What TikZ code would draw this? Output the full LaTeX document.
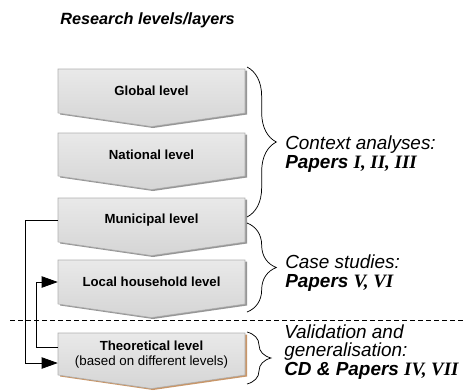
\documentclass[tikz,border=0pt]{standalone}
\usepackage{fontspec}
\setsansfont{Liberation Sans}
\newfontfamily\romanfont{Liberation Serif}
\usetikzlibrary{arrows.meta,calc,decorations.pathreplacing}

\definecolor{boxtop}{RGB}{233,233,233}
\definecolor{boxbot}{RGB}{213,213,213}
\definecolor{boxedge}{RGB}{175,175,175}
\definecolor{shadowgray}{RGB}{150,150,150}
\definecolor{shadowbrown}{RGB}{200,150,105}

\newcommand{\rnum}[1]{{\romanfont\bfseries\itshape #1}}

\tikzset{
  levelshape/.style={top color=boxtop, bottom color=boxbot, draw=boxedge, line width=0.4pt},
  levellabel/.style={inner sep=0pt, minimum width=140.25pt, minimum height=33pt, align=center,
    font=\sffamily\bfseries\fontsize{9.9}{11.25}\selectfont},
  findings/.style={anchor=west, inner sep=0pt, align=left,
    font=\sffamily\itshape\fontsize{14.2}{14}\selectfont},
  feedback/.style={line width=0.6pt, -{Triangle[length=12pt,width=8.5pt]}},
  layerbrace/.style={decorate, decoration={brace, amplitude=#1}, line width=0.55pt},
  layerbrace/.default=22pt,
}

\begin{document}
\begin{tikzpicture}[x=0.75pt,y=0.75pt,yscale=-1,xscale=1]
\useasboundingbox (0,0) rectangle (464,390);

% Text Node
\node [anchor=west, inner sep=0pt, font=\sffamily\bfseries\itshape\fontsize{12.2}{14}\selectfont] (title) at (60,20) {Research levels/layers};

%Shapes: level arrows
\foreach \t/\b/\sh in {69/44/shadowgray,133/43/shadowgray,198/44/shadowgray,260/44/shadowgray,333/42/shadowbrown}{
  \fill [\sh] (60,\t+1.5) -- (247,\t+1.5) -- (247,\t+\b+1.5) -- (153,\t+\b+15) -- (60,\t+\b+1.5) -- cycle ;
  \draw [levelshape] (58,\t) -- (245,\t) -- (245,\t+\b) -- (151.5,\t+\b+13.5) -- (58,\t+\b) -- cycle ;
}

% Text Nodes
\node [levellabel] (glob) at (151.5,91) {Global level};
\node [levellabel] (nat) at (151.5,155) {National level};
\node [levellabel] (mun) at (151.5,220) {Municipal level};
\node [levellabel] (loc) at (151.5,282) {Local household level};
\node [levellabel] (theo) at (151.5,355) {Theoretical level\\{\mdseries\fontsize{10}{11.25}\selectfont (based on different levels)}};

%Straight Lines
\draw [feedback] (mun.west) -- ++(-32,0) |- ($(theo.west)+(0,8)$) ;
\draw [feedback] ($(theo.west)+(0,-8)$) -- ++(-21,0) |- (loc.west) ;

%Dashed line
\draw [dash pattern=on 3.5pt off 2.5pt, line width=0.6pt] (10,320) -- (464,320) ;

%Braces
\draw [layerbrace] (247,67) -- (247,217) ;
\draw [layerbrace] (247,223) -- (247,312) ;
\draw [layerbrace=18pt] (247,332) -- (247,384) ;

% Text Nodes
\node [findings] (ctx) at (285,154) {Context analyses:\\\textbf{Papers \rnum{I, II, III}}};
\node [findings] (case) at (285,273) {Case studies:\\\textbf{Papers \rnum{V, VI}}};
\node [findings] (valid) at (284,352) {Validation and\\generalisation:\\\textbf{CD \& Papers \rnum{IV, VII}}};
\end{tikzpicture}
\end{document}
